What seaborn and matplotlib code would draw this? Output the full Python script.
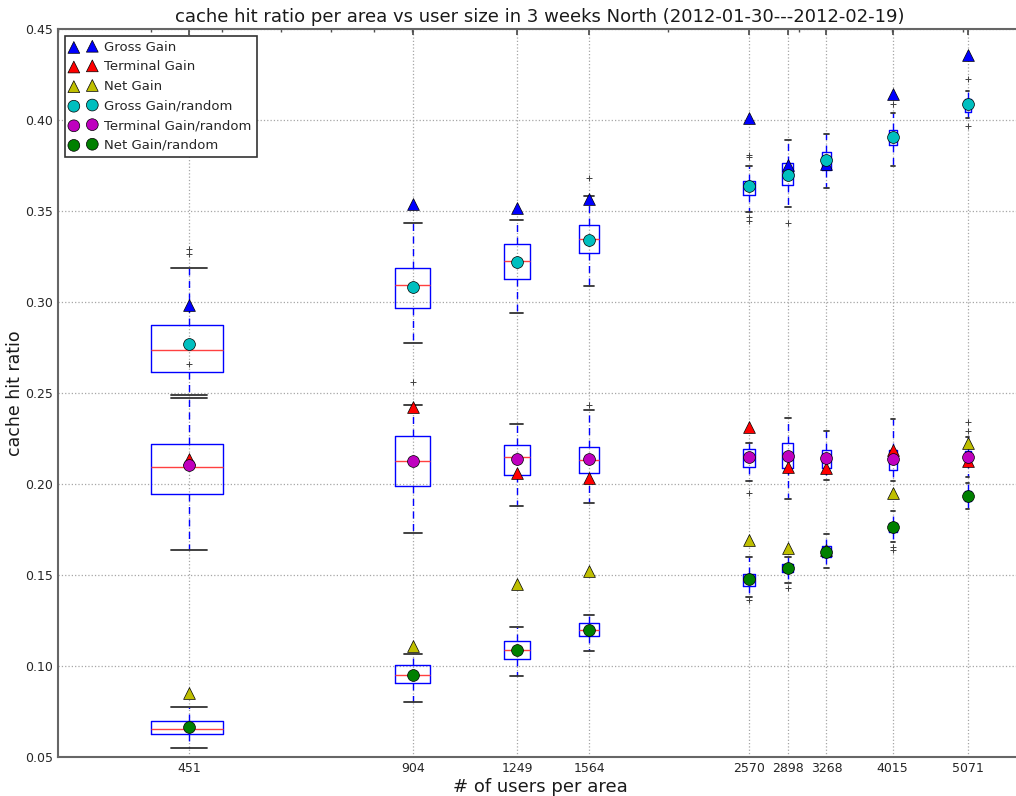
import numpy as np
import matplotlib
matplotlib.use("Agg")
import matplotlib.pyplot as plt
from matplotlib.ticker import NullFormatter, FixedLocator, FixedFormatter
import seaborn as sns

# ---------------- data ----------------
users = [451, 904, 1249, 1564, 2570, 2898, 3268, 4015, 5071]
x_tick_labels = ["451", "904", "1249", "1564", "2570", "2898", "3268", "4015", "5071"]
y_ticks = [0.05, 0.10, 0.15, 0.20, 0.25, 0.30, 0.35, 0.40, 0.45]

# triangle markers (measured gains)
gross_gain = [0.2985, 0.354, 0.3515, 0.3565, 0.401, 0.3755, 0.3758, 0.4145, 0.4355]
terminal_gain = [0.2135, 0.2425, 0.2060, 0.2035, 0.2315, 0.2095, 0.2090, 0.2185, 0.2125]
net_gain = [0.0850, 0.1110, 0.1450, 0.1520, 0.1690, 0.1650, 0.1635, 0.1950, 0.2225]

# Gross Gain/random boxes
gross_r_whislo = [0.2490, 0.2777, 0.2940, 0.3090, 0.3496, 0.3520, 0.3625, 0.3750, 0.4010]
gross_r_q1 = [0.2615, 0.2967, 0.3125, 0.3270, 0.3590, 0.3645, 0.3725, 0.3860, 0.4043]
gross_r_med = [0.2738, 0.3093, 0.3225, 0.3345, 0.3635, 0.3710, 0.3775, 0.3905, 0.4085]
gross_r_q3 = [0.2875, 0.3185, 0.3320, 0.3425, 0.3665, 0.3765, 0.3825, 0.3945, 0.4115]
gross_r_whishi = [0.3185, 0.3435, 0.3450, 0.3580, 0.3745, 0.3890, 0.3925, 0.4040, 0.4160]
gross_r_mean = [0.2770, 0.3080, 0.3220, 0.3340, 0.3635, 0.3700, 0.3780, 0.3905, 0.4090]
gross_r_fliers = [[0.3265, 0.3290], [], [], [0.3680], [0.3445, 0.3465, 0.3795, 0.3810],
                  [0.3435], [], [0.4090], [0.3965, 0.4225]]

# Terminal Gain/random boxes
term_r_whislo = [0.1635, 0.1732, 0.1878, 0.1893, 0.2015, 0.1920, 0.2020, 0.2015, 0.2040]
term_r_q1 = [0.1945, 0.1988, 0.2052, 0.2061, 0.2094, 0.2086, 0.2086, 0.2077, 0.2126]
term_r_med = [0.2095, 0.2128, 0.2147, 0.2132, 0.2155, 0.2155, 0.2145, 0.2140, 0.2155]
term_r_q3 = [0.2220, 0.2262, 0.2213, 0.2203, 0.2190, 0.2227, 0.2187, 0.2187, 0.2180]
term_r_whishi = [0.2470, 0.2435, 0.2327, 0.2406, 0.2225, 0.2360, 0.2290, 0.2355, 0.2260]
term_r_mean = [0.2105, 0.2126, 0.2136, 0.2137, 0.2150, 0.2152, 0.2144, 0.2138, 0.2150]
term_r_fliers = [[0.2660], [0.2561], [], [0.2433], [0.1953], [], [], [], [0.2290, 0.2340]]

# Net Gain/random boxes
net_r_whislo = [0.0550, 0.0801, 0.0947, 0.1082, 0.1378, 0.1455, 0.1537, 0.1680, 0.1865]
net_r_q1 = [0.0628, 0.0907, 0.1037, 0.1166, 0.1442, 0.1515, 0.1597, 0.1734, 0.1907]
net_r_med = [0.0655, 0.0949, 0.1090, 0.1200, 0.1475, 0.1538, 0.1624, 0.1760, 0.1932]
net_r_q3 = [0.0699, 0.1004, 0.1135, 0.1239, 0.1506, 0.1560, 0.1657, 0.1783, 0.1962]
net_r_whishi = [0.0776, 0.1064, 0.1214, 0.1278, 0.1597, 0.1600, 0.1728, 0.1853, 0.2008]
net_r_mean = [0.0663, 0.0953, 0.1090, 0.1200, 0.1478, 0.1541, 0.1627, 0.1765, 0.1935]
net_r_fliers = [[], [], [], [], [0.1360], [0.1430], [], [0.1655, 0.1640], []]

# ---------------- plotting ----------------
sns.set_theme(style="white", color_codes=False)
plt.rcParams['font.family'] = ['DejaVu Sans']

BLUE = "#0000ff"
fig = plt.figure(figsize=(10.16, 7.96), dpi=100)
ax = fig.add_axes([58 / 1016, 39 / 796, 964 / 1016, 728 / 796])


def build_stats(whislo, q1, med, q3, whishi, mean, fliers):
    out = []
    for i in range(len(med)):
        out.append(dict(whislo=whislo[i], q1=q1[i], med=med[i], q3=q3[i],
                        whishi=whishi[i], mean=mean[i], fliers=np.array(fliers[i])))
    return out


box_kw = dict(
    positions=users, widths=100, manage_ticks=False, showmeans=False,
    boxprops=dict(color=BLUE, lw=1.0),
    whiskerprops=dict(color=BLUE, lw=1.0, linestyle=(0, (5, 4))),
    capprops=dict(color="#333333", lw=1.3),
    medianprops=dict(color="#ff4040", lw=1.0),
    flierprops=dict(marker="+", markeredgecolor="#404040", markersize=5,
                    markeredgewidth=0.7, linestyle="none"),
)

ax.bxp(build_stats(gross_r_whislo, gross_r_q1, gross_r_med, gross_r_q3,
                   gross_r_whishi, gross_r_mean, gross_r_fliers), **box_kw)
ax.bxp(build_stats(term_r_whislo, term_r_q1, term_r_med, term_r_q3,
                   term_r_whishi, term_r_mean, term_r_fliers), **box_kw)
ax.bxp(build_stats(net_r_whislo, net_r_q1, net_r_med, net_r_q3,
                   net_r_whishi, net_r_mean, net_r_fliers), **box_kw)

mk = dict(s=72, edgecolor="k", linewidth=0.5, ax=ax, legend=False)
sns.scatterplot(x=users, y=gross_gain, marker="^", color="#0000ff", label="Gross Gain", zorder=4, **mk)
sns.scatterplot(x=users, y=terminal_gain, marker="^", color="#ff0000", label="Terminal Gain", zorder=4, **mk)
sns.scatterplot(x=users, y=net_gain, marker="^", color="#bfbf00", label="Net Gain", zorder=4, **mk)
sns.scatterplot(x=users, y=gross_r_mean, marker="o", color="#00bfbf", label="Gross Gain/random", zorder=5, **mk)
sns.scatterplot(x=users, y=term_r_mean, marker="o", color="#bf00bf", label="Terminal Gain/random", zorder=5, **mk)
sns.scatterplot(x=users, y=net_r_mean, marker="o", color="#008000", label="Net Gain/random", zorder=5, **mk)

ax.set_xscale("log")
ax.set_xlim(300, 6000)
ax.set_ylim(0.05, 0.45)
ax.xaxis.set_major_locator(FixedLocator(users))
ax.xaxis.set_major_formatter(FixedFormatter(x_tick_labels))
ax.xaxis.set_minor_formatter(NullFormatter())
ax.set_yticks(y_ticks)
ax.set_yticklabels([f"{v:.2f}" for v in y_ticks])

ax.grid(True, which="major", linestyle=":", color="0.65", lw=0.9)
ax.tick_params(which="both", direction="in", top=True, right=True, colors="0.3",
               labelcolor="0.15", labelsize=9)
ax.tick_params(which="major", length=4)
ax.tick_params(which="minor", length=2)
for sp in ax.spines.values():
    sp.set_color("0.4")
    sp.set_linewidth(1.5)

ax.set_title("cache hit ratio per area vs user size in 3 weeks North (2012-01-30---2012-02-19)",
             fontsize=13, color="0.1", pad=5)
ax.set_xlabel("# of users per area", fontsize=13, color="0.1", labelpad=2)
ax.set_ylabel("cache hit ratio", fontsize=12.5, color="0.1", labelpad=1)

leg = ax.legend(loc="upper left", scatterpoints=2, fontsize=9.5, fancybox=False,
                frameon=True, edgecolor="0.2", framealpha=1, labelspacing=0.5,
                handletextpad=0.6, borderpad=0.4)
leg.get_frame().set_linewidth(1.2)

fig.savefig("out.png", dpi=100)
